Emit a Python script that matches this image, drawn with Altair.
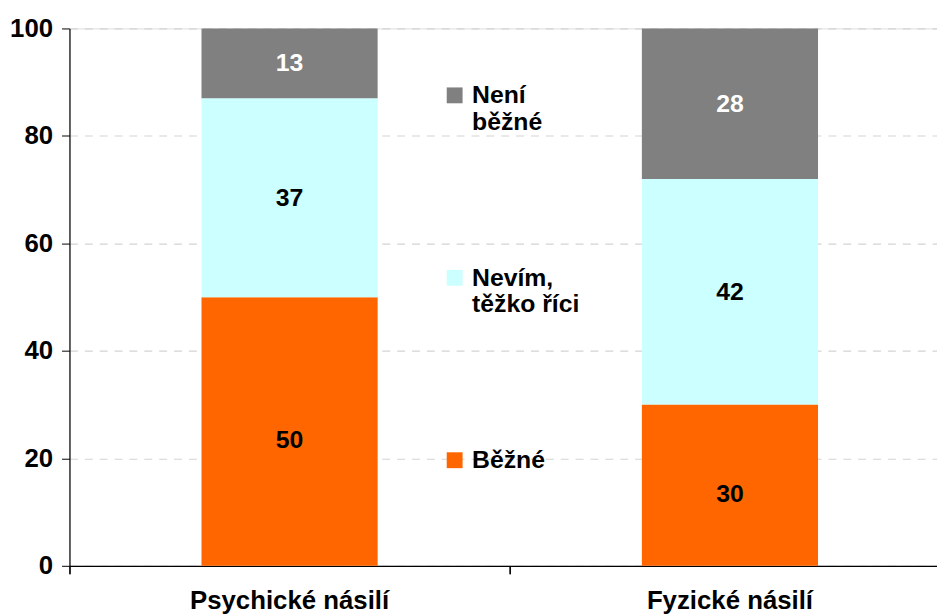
import altair as alt
import pandas as pd

categories = ["Psychické násilí", "Fyzické násilí"]
series = ["Běžné", "Nevím, těžko říci", "Není běžné"]
values_bezne = [50, 30]
values_nevim = [37, 42]
values_neni = [13, 28]
colors = ["#FF6600", "#CCFFFF", "#808080"]
y_ticks = [0, 20, 40, 60, 80, 100]

rows = []
for s_i, (s, vals) in enumerate(zip(series, [values_bezne, values_nevim, values_neni])):
    for c, v in zip(categories, vals):
        rows.append({"kategorie": c, "odpověď": s, "hodnota": v, "poradi": s_i})
df = pd.DataFrame(rows)

FONT = "Liberation Sans"
x_scale = alt.Scale(paddingInner=0.6, paddingOuter=0.285, align=0.526)

x_enc = alt.X(
    "kategorie:N",
    sort=categories,
    scale=x_scale,
    axis=alt.Axis(
        title=None, labelAngle=0, labelFont=FONT, labelFontSize=26, labelFontWeight="bold",
        labelColor="#000000", domainColor="#000000", domainWidth=1.2, ticks=False,
        labelPadding=22, labelLimit=500, grid=False, orient="bottom",
    ),
)

legend_order = list(reversed(series))

bars = alt.Chart(df).mark_bar().encode(
    x=x_enc,
    y=alt.Y(
        "hodnota:Q",
        stack="zero",
        scale=alt.Scale(domain=[0, 100], nice=False),
        axis=alt.Axis(
            title=None, values=y_ticks, labelFont=FONT, labelFontSize=26, labelFontWeight="bold",
            labelColor="#000000", domainColor="#000000", domainWidth=1.2, tickColor="#000000",
            tickSize=8, labelPadding=9, grid=True, gridColor="#d4d4d4", gridDash=[8, 7],
            gridWidth=1.2,
        ),
    ),
    color=alt.Color(
        "odpověď:N",
        scale=alt.Scale(domain=legend_order, range=list(reversed(colors))),
        legend=alt.Legend(
            title=None, orient="none", legendX=376, legendY=55, direction="vertical",
            symbolType="square", symbolSize=256, symbolStrokeWidth=0, symbolOpacity=1,
            labelFont=FONT, labelFontSize=25, labelFontWeight="bold", labelColor="#000000",
            labelLimit=300, rowPadding=131, labelOffset=5,
            labelExpr="datum.label == 'Není běžné' ? ['Není', 'běžné'] : datum.label == 'Nevím, těžko říci' ? ['Nevím,', 'těžko říci'] : datum.label",
        ),
    ),
    order=alt.Order("poradi:Q", sort="ascending"),
)

label_base = alt.Chart(df).transform_stack(
    stack="hodnota", groupby=["kategorie"], as_=["y0", "y1"],
    sort=[alt.SortField("poradi", order="ascending")],
).transform_calculate(
    mid="(datum.y0 + datum.y1) / 2",
    tcolor="datum['odpověď'] == 'Není běžné' ? '#FFFFFF' : '#000000'",
)

label_enc = dict(
    x=alt.X(
        "kategorie:N", sort=categories, scale=x_scale,
        axis=alt.Axis(
            title=None, labels=False, domain=False, ticks=True, tickSize=8,
            tickColor="#000000", tickWidth=1.2, bandPosition=-0.747, grid=False, orient="bottom",
        ),
    ),
    y=alt.Y("mid:Q"),
    text=alt.Text("hodnota:Q"),
    color=alt.Color("tcolor:N", scale=None, legend=None),
)

labels_upper = label_base.transform_filter("datum['odpověď'] != 'Běžné'").mark_text(
    font=FONT, fontSize=25, fontWeight="bold", baseline="middle"
).encode(**label_enc)

labels_lower = label_base.transform_filter("datum['odpověď'] == 'Běžné'").mark_text(
    font=FONT, fontSize=25, fontWeight="bold", baseline="middle", dy=9
).encode(**label_enc)

chart = alt.layer(bars, labels_upper, labels_lower).resolve_axis(x="independent").properties(
    width=875, height=542,
    autosize=alt.AutoSizeParams(type="none"),
    padding={"left": 62, "top": 18, "right": 0, "bottom": 48},
).configure_view(stroke=None).configure(background="#FFFFFF")

chart.save("out.html", embed_options={"renderer": "svg", "actions": False})
